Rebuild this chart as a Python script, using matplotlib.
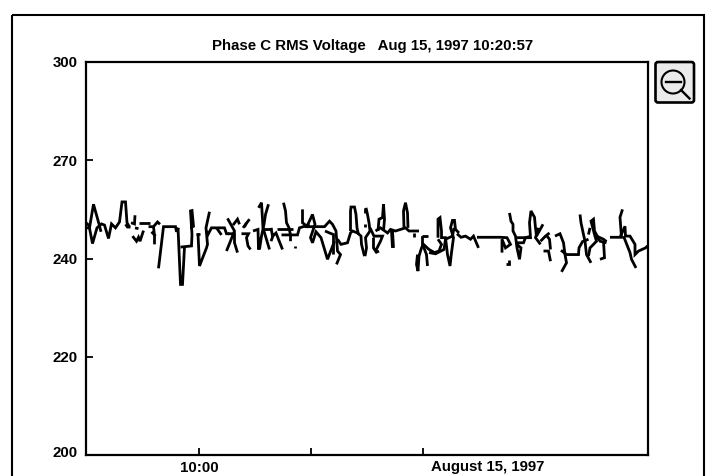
import matplotlib
matplotlib.use("Agg")
import matplotlib.pyplot as plt
from matplotlib.patches import Rectangle, FancyBboxPatch, Circle
from matplotlib.lines import Line2D
from matplotlib.transforms import ScaledTranslation

TITLE = "Phase C RMS Voltage   Aug 15, 1997 10:20:57"
y_ticks = [200, 225, 250, 275, 300]
y_labels = ["200", "220", "240", "270", "300"]
x_ticks = [113.5, 225.5, 337.5]
x_labels = ["10:00", "", ""]
date_label = "August 15, 1997"
date_pos = 402

# Each pair of lists below is one unbroken stretch of the trace: seconds along the axis, RMS volts
trace_a_t = [[0.5,4,8,13.5,15.5],[0.5,3.5,7,11.5,16,19,23,26,30,34,36.5,40,41.5,44],[40,42,45],[49.5,49,45.5],[49.5,53],[47,51,53,54.5,58],[53.5,64.5],[63,68,72,74.5],[68,69,69],[66,70],[73,78,90,91,93]]
trace_a_v = [[257.8,257.8,263.8,258.8,256.8],[259.1,258.4,253.8,257.8,258.8,258.5,255.1,258.8,257.8,259.3,264.4,264.4,259.1,258],[258.7,258,258],[261,258.8,259.1],[257.8,257.6],[255.7,254.4,255.4,254.4,257.1],[259.1,259.1],[258.1,258.1,259.3,258.7],[258.1,255.7,253.6],[256.8,255.7],[247.5,258.1,258.1,256.8,257.8]]
trace_b_t = [[92.5,95,97,99],[95,106,106.5,105,106.5,108,105],[110,114],[112.5,114,121,122,120.5,124],[121,122.5,126,139,141,144],[131,136],[142,149,141],[147.5,152,154],[142.5,149,149,152],[157.5,164],[156,163,161,162.5,165],[159,161],[167.5,172.5,173,174],[173,176,177.5,184],[183,180,178.5,176,174],[176,186]]
trace_b_v = [[257.8,243.4,243.4,252.9],[252.9,253.2,256.1,262.1,262.2,258.2,257.8],[256.3,256.3],[256.3,248.1,252.7,253.6,257.8,261.9],[257,256.1,257.8,257.8,256.3,256.3],[257.8,256],[260.2,257,251.9],[258.5,260,258.7],[256.3,256.3,254,251.5],[257.8,260],[256.3,256.3,255.3,253.2,252.3],[258,259.1],[257,257.4,252.3,255.3],[262.9,264.2,257.8,252.3],[263.8,261.2,258.7,255.7,252.3],[257.4,257.4]]
trace_c_t = [[185.5,187,190.5,197],[185.5,188],[191.5,207],[198,200,201,203.5,205,205],[196,212,214,219,224],[217,217,221.5,227,229.5,225,227,230.5,235.5,242,249],[219,239,244,247,250.5,252,255,251],[239.5,244,248,248],[252,255.5,262,265,267,272,275.5,276,279],[265,265,265.5,269,270.5,271.5,273],[209.5,209.5],[279,279],[279,279]]
trace_c_v = [[257.8,255.7,256.5,252.3],[254.4,256.1],[257.6,257.6],[264.2,262.1,259.1,257.8,256,254.4],[256,256,257.8,258.2,258.7],[262.5,259.1,258.2,261.2,258.7,255.3,254,256.8,255.3,249.8,254.4],[258.1,258.1,259.5,258.7,257,251.9,251,248.5],[257,256.5,256.1,251],[254.9,253.6,254,256.5,257,256.5,255.7,253.6,250.6],[257,262.1,263.1,263.1,261.2,257.8,256.1],[253.2,252.7],[258.7,258],[262.9,261.6]]
trace_d_t = [[280.5,282,283.5,284.5,280,281,279.5],[284.5,288.5,297,295,290,288,288],[290,293.5],[292.5,293.5,297,298,299,298],[290,295,302,305,310,315,320,323.5,333.5],[306,307],[307,308],[318.5,318,320,322,322.5],[328.5,328.5],[336,342],[337,337,338.5,341,342],[332,331,332.5,333.5,336,338,343.5,349,353.5,356,352.5],[343.5,350,358.5,360,367,368.5],[352.5,352.5,354.5,356,356,360,362,364.5,366,368,365,367,369,370,373.5]]
trace_d_v = [[262.9,261.2,259.1,257,255.3,252.7,250.6],[257.8,255.7,255.7,254.4,251.9,252.7,255.3],[251.5,251.9],[257,260,260.4,263.8,260,257],[257,257.8,256.5,257.4,257,257.4,257.8,257,257],[257,252.7],[257,252.7],[257.8,262.1,264.2,261.6,257.8],[256.5,255.4],[255.7,255.7],[255.7,253.2,252.7,251,248.1],[251,248.5,246.8,250.6,252.7,253.6,252.3,251.5,251.9,253.6,254.9],[251.5,251.2,252.3,254.9,255.7,257.8],[255.3,260,260.4,257,255.3,255.3,251,248.1,251.5,255.3,257.8,259.7,259.7,257.4,256.5]]
trace_e_t = [[371.5,375.5,380,385,388,393],[391.5,415,421.5,425,420,416.5,416.5],[420,423,423],[424,425.5,427.5,427.5,430,431.5,434,435.5,431.5],[430,438,440,445.5],[431.5,445,444,445.5,449,450,451,457.5],[453,450,455],[455,460,464],[458,463,465],[461.5,464,465]]
trace_e_v = [[256.3,255.4,255.7,254.9,255.7,252.7],[255.4,255.4,255.3,253.6,252.7,254.9,251.5],[248.7,248.7,249.5],[261.6,259.5,258.7,257,255.7,252.7,249.8,252.7,253.6],[254,254,255.3,255.7],[255.3,255.3,259.1,262.1,260.5,257.8,255.7,258.7],[257.8,255.3,253.6],[254.4,255.7,256.5],[251.9,251.9,249.3],[255.7,254.9,252.3]]
trace_f_t = [[469.5,474.5,478,479.5,481,476],[475.5,481,493,493.5,497,503],[494.5,495.5,498,499.5,501,505.5],[503,504.5,511,509,505.5,508,509,514.5,521],[503,504.5],[511,518,521],[518,519,514.5],[524.5,536,534.5,537],[534.5,539.5,540,544.5,549.5,549.5,553,560,562],[538,544.5,546,550.5]]
trace_f_v = [[255.7,256.3,254,251,248.9,246.6],[252.1,251,251,252.7,254.3,254.9],[261.2,259.1,256.1,254.4,251,248.9],[250.6,252.7,254.4,256.1,259.5,260,257,254.4,254],[256.1,257.8],[255.7,254.9,254.3],[254.4,250.2,249.8],[255.4,255.4,260.5,262.5],[255.4,258.2,255.7,255.7,253.6,251,251.9,252.7,253.2],[255.7,251.5,249.8,247.6]]

W, H = 707, 476
plt.rcParams["font.family"] = ["Liberation Sans", "DejaVu Sans"]
plt.rcParams["font.weight"] = "bold"
FS = 10.8
fig = plt.figure(figsize=(W / 100, H / 100), dpi=100, facecolor="white")

# overlay in pixel coordinates for the window frame and the zoom button
ov = fig.add_axes([0, 0, 1, 1])
ov.set_xlim(0, W); ov.set_ylim(H, 0); ov.axis("off")
ov.add_patch(Rectangle((12, 14.5), 692, 480, fill=False, ec="black", lw=1.5))
ov.add_patch(FancyBboxPatch((655.5, 62), 38.5, 40.5, boxstyle="round,pad=0,rounding_size=2.5",
                            fc="#ebebeb", ec="black", lw=1.9))
ov.add_patch(Circle((673, 82), 11.5, fill=False, ec="black", lw=1.5))
ov.add_line(Line2D([665.5, 680.5], [81.5, 81.5], color="black", lw=1.7))
ov.add_line(Line2D([681, 689.5], [90, 98.5], color="black", lw=1.7))

L, R, T, B = 85.5, 648, 62, 455
ax = fig.add_axes([L / W, 1 - B / H, (R - L) / W, (B - T) / H])
ax.set_xlim(0, R - L)
ax.set_ylim(200, 300)
ax.patch.set_alpha(0)
for s in ax.spines.values():
    s.set_linewidth(1.6)

for ts, vs in zip(trace_a_t + trace_b_t + trace_c_t + trace_d_t + trace_e_t + trace_f_t,
                  trace_a_v + trace_b_v + trace_c_v + trace_d_v + trace_e_v + trace_f_v):
    ax.plot(ts, vs, color="black", lw=2.0, solid_joinstyle="miter", solid_capstyle="butt")

ax.set_yticks(y_ticks, y_labels)
ax.set_xticks(x_ticks, x_labels)
ax.tick_params(axis="both", direction="in", length=5, width=1.3, labelsize=FS)
ax.tick_params(axis="y", pad=5.5)
ax.tick_params(axis="x", pad=4)
# the lowest value label sits a little above its tick
lab = ax.get_yticklabels()[0]
lab.set_transform(lab.get_transform() + ScaledTranslation(0, 3 / 100, fig.dpi_scale_trans))
ax.text(date_pos, -0.0305, date_label, ha="center", va="center", fontsize=FS, fontweight="bold",
        transform=ax.get_xaxis_transform(), clip_on=False)
fig.text(372.5 / W, 1 - 46 / H, TITLE, ha="center", va="center", fontsize=FS, fontweight="bold")
fig.savefig("out.png", dpi=100)
